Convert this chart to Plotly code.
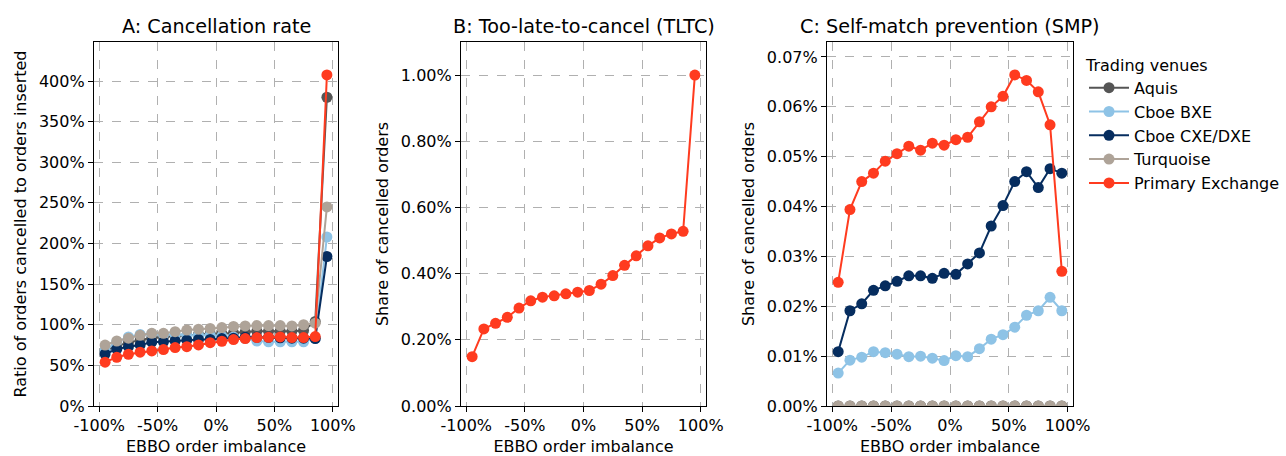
import plotly.graph_objects as go

# ---------------- data ----------------
imbalance = [-95, -85, -75, -65, -55, -45, -35, -25, -15, -5,
             5, 15, 25, 35, 45, 55, 65, 75, 85, 95]

venues = ["Aquis", "Cboe BXE", "Cboe CXE/DXE", "Turquoise", "Primary Exchange"]
colors = ["#555555", "#8ec3e6", "#062d5f", "#aea398", "#ff3b1f"]

# Panel A: cancellation rate (%)
cancel_aquis = [68, 74, 78, 81, 84, 85, 86, 87, 88, 89, 89, 90, 91, 92, 92, 92, 92, 93, 104, 380]
cancel_bxe = [68, 79, 85, 88, 89, 88, 88, 87, 87, 87, 86, 85, 83, 80, 79, 79, 79, 79, 83, 208]
cancel_cxe = [64, 70, 73, 75, 78.5, 79, 80, 81, 82, 82, 83, 83.5, 84.5, 84.5, 84.5, 84, 83.5, 83.5, 83, 184]
cancel_turq = [75, 80, 83.5, 87, 89.5, 89.5, 91.5, 93.5, 94.5, 95.5, 96.5, 98, 98.5, 99, 99, 99, 98.5, 100, 102, 245]
cancel_prim = [54, 60, 63.7, 66.2, 67.8, 69.4, 71.9, 73, 75.2, 78, 79.7, 81.8, 83, 84.2, 84.6, 85, 84.2, 84.2, 85.4, 407.5]

# Panel B: too-late-to-cancel share (%)
tltc_prim = [0.149, 0.233, 0.250, 0.268, 0.296, 0.318, 0.329, 0.333, 0.339, 0.344,
             0.349, 0.368, 0.394, 0.425, 0.454, 0.484, 0.508, 0.520, 0.528, 1.000]

# Panel C: self-match prevention share (%)
smp_aquis = [0.0] * 20
smp_bxe = [0.0066, 0.0092, 0.0098, 0.0109, 0.0107, 0.0104, 0.0099, 0.0100, 0.0096, 0.0091,
           0.0101, 0.0099, 0.0115, 0.0134, 0.0143, 0.0158, 0.0182, 0.0191, 0.0218, 0.0191]
smp_cxe = [0.0109, 0.0191, 0.0205, 0.0232, 0.0241, 0.0250, 0.0261, 0.0261, 0.0256, 0.0266,
           0.0264, 0.0285, 0.0307, 0.0361, 0.0402, 0.0450, 0.0470, 0.0438, 0.0476, 0.0467]
smp_turq = [0.0] * 20
smp_prim = [0.0248, 0.0394, 0.0450, 0.0467, 0.0491, 0.0506, 0.0521, 0.0513, 0.0527, 0.0523,
            0.0534, 0.0539, 0.0570, 0.0600, 0.0621, 0.0664, 0.0653, 0.0630, 0.0564, 0.0270]

x_tickvals = [-100, -50, 0, 50, 100]
x_ticktext = ["-100%", "-50%", "0%", "50%", "100%"]
a_tickvals = [0, 50, 100, 150, 200, 250, 300, 350, 400]
a_ticktext = ["0%", "50%", "100%", "150%", "200%", "250%", "300%", "350%", "400%"]
b_tickvals = [0.0, 0.2, 0.4, 0.6, 0.8, 1.0]
b_ticktext = ["0.00%", "0.20%", "0.40%", "0.60%", "0.80%", "1.00%"]
c_tickvals = [0.0, 0.01, 0.02, 0.03, 0.04, 0.05, 0.06, 0.07]
c_ticktext = ["0.00%", "0.01%", "0.02%", "0.03%", "0.04%", "0.05%", "0.06%", "0.07%"]

titles = ["A: Cancellation rate", "B: Too-late-to-cancel (TLTC)", "C: Self-match prevention (SMP)"]
x_title = "EBBO order imbalance"
y_titles = ["Ratio of orders cancelled to orders inserted",
            "Share of cancelled orders", "Share of cancelled orders"]

# ---------------- figure ----------------
W, H = 1286, 456
FONT = "DejaVu Sans"
fig = go.Figure()

panel_a = [cancel_aquis, cancel_bxe, cancel_cxe, cancel_turq, cancel_prim]
panel_c = [smp_aquis, smp_bxe, smp_cxe, smp_turq, smp_prim]


def add(ys, name, color, xa, ya, show):
    fig.add_trace(go.Scatter(
        x=imbalance, y=ys, name=name, mode="lines+markers",
        line=dict(color=color, width=2), marker=dict(color=color, size=11),
        xaxis=xa, yaxis=ya, legendgroup=name, showlegend=show))


for ys, name, col in zip(panel_a, venues, colors):
    add(ys, name, col, "x", "y", True)
add(tltc_prim, venues[4], colors[4], "x2", "y2", False)
for ys, name, col in zip(panel_c, venues, colors):
    add(ys, name, col, "x3", "y3", False)

px = lambda p: p / W
py = lambda p: 1 - p / H

ybot, ytop = py(406), py(42)
xdoms = [(94, 338), (461, 706), (827, 1073)]

axis_common = dict(
    showline=True, mirror=True, linecolor="#000000", linewidth=1.2,
    ticks="outside", ticklen=5, tickwidth=1.2, tickcolor="#000000",
    showgrid=True, gridcolor="#b0b0b0", griddash="dash", gridwidth=1,
    zeroline=False, automargin=False,
    tickfont=dict(size=16, family=FONT, color="#000000"),
)

layout = dict(
    width=W, height=H, margin=dict(l=0, r=0, t=0, b=0, autoexpand=False),
    plot_bgcolor="white", paper_bgcolor="white",
    font=dict(family=FONT, size=16, color="#000000"),
    showlegend=True,
    legend=dict(
        x=px(1084), y=py(50), xanchor="left", yanchor="top",
        title=dict(text="Trading venues", font=dict(size=16, family=FONT)),
        font=dict(size=16, family=FONT), bgcolor="rgba(0,0,0,0)",
        tracegroupgap=0, itemwidth=40,
    ),
)

ranges_y = [[0, 448], [0, 1.10], [0, 0.073]]
ytv = [(a_tickvals, a_ticktext), (b_tickvals, b_ticktext), (c_tickvals, c_ticktext)]
annotations = []
for i in range(3):
    sfx = "" if i == 0 else str(i + 1)
    d0, d1 = xdoms[i]
    layout["xaxis" + sfx] = dict(
        axis_common, domain=[px(d0), px(d1)], range=[-104.5, 104.5],
        tickvals=x_tickvals, ticktext=x_ticktext, anchor="y" + sfx,
        title=dict(text=x_title, font=dict(size=16, family=FONT), standoff=12),
    )
    layout["yaxis" + sfx] = dict(
        axis_common, domain=[ybot, ytop], range=ranges_y[i],
        tickvals=ytv[i][0], ticktext=ytv[i][1], anchor="x" + sfx,
        title=dict(text=y_titles[i], font=dict(size=16, family=FONT), standoff=8),
    )
    annotations.append(dict(
        text=titles[i], x=px((d0 + d1) / 2), y=py(40), xref="paper", yref="paper",
        xanchor="center", yanchor="bottom", showarrow=False,
        font=dict(size=19.2, family=FONT, color="#000000"),
    ))
layout["annotations"] = annotations

fig.update_layout(**layout)
fig.write_html("out.html", config={"displayModeBar": False},
               post_script="document.body.style.margin='0';document.body.style.overflow='hidden';")
